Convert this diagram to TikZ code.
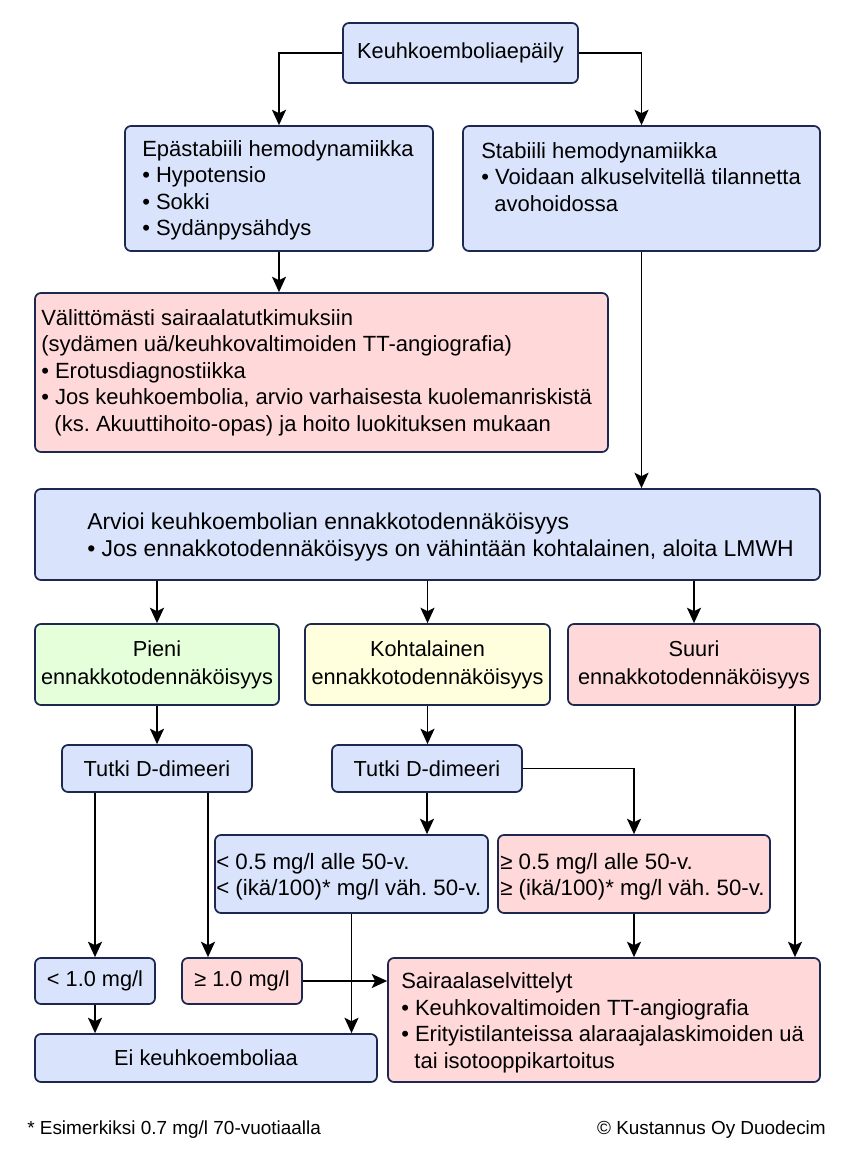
\documentclass[tikz,border=0pt]{standalone}
\usepackage{fontspec}
\setmainfont{Liberation Sans}
\usetikzlibrary{arrows.meta}
\frenchspacing
\definecolor{cblue}{RGB}{217,228,252}
\definecolor{cpink}{RGB}{255,217,218}
\definecolor{cgreen}{RGB}{229,255,219}
\definecolor{cyell}{RGB}{255,255,221}
\definecolor{bord}{RGB}{28,40,80}
\newcommand\mainsz{\frenchspacing\fontsize{16.3pt}{21pt}\selectfont}
\newcommand\leftsz{\frenchspacing\fontsize{16.5pt}{19.9pt}\selectfont}
\newcommand\arvsz{\frenchspacing\fontsize{17.2pt}{20pt}\selectfont}
\newcommand\dsz{\frenchspacing\fontsize{16.7pt}{19.7pt}\selectfont}
\newcommand\footsz{\frenchspacing\fontsize{14.2pt}{17pt}\selectfont}
\newcommand\cind{\hspace*{0.6em}}
\begin{document}
\begin{tikzpicture}[x=0.75pt,y=-0.75pt,
  bx/.style={draw=bord, line width=1.3pt, rounded corners=4.5pt, inner sep=0pt},
  bbl/.style={bx, fill=cblue},
  bpk/.style={bx, fill=cpink},
  bgr/.style={bx, fill=cgreen},
  bye/.style={bx, fill=cyell},
  ctx/.style={align=center, font=\mainsz},
  tx/.style={inner sep=0pt, align=left, font=\leftsz, anchor=west},
  arr/.style={line width=1.4pt, -{Stealth[length=11.5pt,width=10.5pt,inset=2.5pt]}}
]
\useasboundingbox (0,0) rectangle (850,1170);

% boxes
\node[bbl, ctx, minimum width=176.25pt, minimum height=45pt] (top) at (460.5,53) {Keuhkoemboliaepäily};

\node[bbl, minimum width=231pt, minimum height=93.75pt] (epa) at (279,188.5) {};
\node[tx] (epat) at (142,190.5) {Epästabiili hemodynamiikka\\• Hypotensio\\• Sokki\\• Sydänpysähdys};

\node[bbl, minimum width=267.75pt, minimum height=93.75pt] (sta) at (641.5,188.5) {};
\node[tx] (stat) at (481,177) {Stabiili hemodynamiikka\\• Voidaan alkuselvitellä tilannetta\\\cind avohoidossa};

\node[bpk, minimum width=429.75pt, minimum height=119.25pt] (val) at (321.5,372.5) {};
\node[tx] (valt) at (41,372.5) {Välittömästi sairaalatutkimuksiin\\(sydämen uä/keuhkovaltimoiden TT-angiografia)\\• Erotusdiagnostiikka\\• Jos keuhkoembolia, arvio varhaisesta kuolemanriskistä\\\cind(ks. Akuuttihoito-opas) ja hoito luokituksen mukaan};

\node[bbl, minimum width=588.75pt, minimum height=68.25pt] (arv) at (427.5,534.5) {};
\node[tx, font=\arvsz] (arvt) at (87,537) {Arvioi keuhkoembolian ennakkotodennäköisyys\\• Jos ennakkotodennäköisyys on vähintään kohtalainen, aloita LMWH};

\node[bgr, ctx, minimum width=183pt, minimum height=60.75pt] (pie) at (157,664.5) {Pieni\\ennakkotodennäköisyys};
\node[bye, ctx, minimum width=183.75pt, minimum height=60.75pt] (koh) at (427.5,664.5) {Kohtalainen\\ennakkotodennäköisyys};
\node[bpk, ctx, minimum width=189pt, minimum height=60.75pt] (suu) at (694,664.5) {Suuri\\ennakkotodennäköisyys};

\node[bbl, ctx, minimum width=142.5pt, minimum height=35.25pt] (tu1) at (157,768.5) {Tutki D-dimeeri};
\node[bbl, ctx, minimum width=142.5pt, minimum height=35.25pt] (tu2) at (427,768.5) {Tutki D-dimeeri};

\node[bbl, minimum width=204.75pt, minimum height=58.5pt] (lt5) at (351.5,874) {};
\node[tx, font=\dsz] (lt5t) at (216,877) {< 0.5 mg/l alle 50-v.\\< (ikä/100)* mg/l väh. 50-v.};
\node[bpk, minimum width=204pt, minimum height=58.5pt] (ge5) at (634,874) {};
\node[tx, font=\dsz] (ge5t) at (500,877) {≥ 0.5 mg/l alle 50-v.\\≥ (ikä/100)* mg/l väh. 50-v.};

\node[bbl, ctx, minimum width=90pt, minimum height=34.5pt] (lt1) at (95,981) {< 1.0 mg/l};
\node[bpk, ctx, minimum width=90pt, minimum height=34.5pt] (ge1) at (242,981) {≥ 1.0 mg/l};

\node[bpk, minimum width=324pt, minimum height=93pt] (sai) at (604,1020) {};
\node[tx] (sait) at (401,1023) {Sairaalaselvittelyt\\• Keuhkovaltimoiden TT-angiografia\\• Erityistilanteissa alaraajalaskimoiden uä\\\cind tai isotooppikartoitus};

\node[bbl, ctx, minimum width=256.5pt, minimum height=36pt] (ei) at (206,1058) {Ei keuhkoemboliaa};

% footer
\node[inner sep=0pt, anchor=west, font=\footsz] (fn) at (27,1130) {* Esimerkiksi 0.7 mg/l 70-vuotiaalla};
\node[inner sep=0pt, anchor=east, font=\footsz] (cr) at (826,1130) {© Kustannus Oy Duodecim};

% helper coordinates
\coordinate (c208) at (208,0);
\coordinate (c795) at (795,0);

% connectors
\draw[arr] (top.west) -| (epa.north);
\draw[arr] (top.east) -| (sta.north);
\draw[arr] (epa.south) -- (epa.south |- val.north);
\draw[arr] (sta.south) -- (sta.south |- arv.north);
\draw[arr] (pie.north |- arv.south) -- (pie.north);
\draw[arr] (koh.north |- arv.south) -- (koh.north);
\draw[arr] (suu.north |- arv.south) -- (suu.north);
\draw[arr] (pie.south) -- (tu1.north);
\draw[arr] (koh.south) -- (koh.south |- tu2.north);
\draw[arr] (lt1.north |- tu1.south) -- (lt1.north);
\draw[arr] (c208 |- tu1.south) -- (c208 |- ge1.north);
\draw[arr] (tu2.south) -- (tu2.south |- lt5.north);
\draw[arr] (tu2.east) -| (ge5.north);
\draw[arr] (c795 |- suu.south) -- (c795 |- sai.north);
\draw[arr] (ge5.south) -- (ge5.south |- sai.north);
\draw[arr] (lt5.south) -- (lt5.south |- ei.north);
\draw[arr] (ge1.east) -- (ge1.east -| sai.west);
\draw[arr] (lt1.south) -- (lt1.south |- ei.north);
\end{tikzpicture}
\end{document}
